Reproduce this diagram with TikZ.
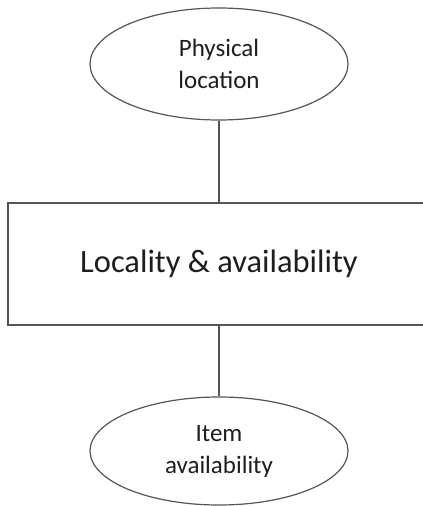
\documentclass[tikz,border=0pt]{standalone}
\usepackage{fontspec}
\setmainfont{Carlito}
\usetikzlibrary{shapes.geometric}
\definecolor{edge}{HTML}{555555}
\definecolor{ink}{HTML}{1E1E1E}
\tikzset{
  oval/.style={ellipse, draw=edge, line width=1.2pt, inner sep=0pt,
    minimum width=258pt, align=center, text=ink,
    font=\fontsize{25}{32}\selectfont},
  bigbox/.style={rectangle, draw=edge, line width=1.2pt, inner sep=0pt,
    minimum width=422pt, minimum height=122pt, text=ink,
    font=\fontsize{32.5}{38}\selectfont},
  link/.style={draw=edge, line width=1.2pt}
}
\begin{document}
\begin{tikzpicture}[x=1pt, y=-1pt]
  \useasboundingbox (0,0) rectangle (423,506);
  \clip (0,0) rectangle (423,506);
  \node[oval, minimum height=112pt] (loc) at (219,64) {Physical\\location};
  \node[bigbox] (core) at (219,264) {Locality \& availability};
  \node[oval, minimum height=108pt] (item) at (219,451) {Item\\availability};
  \draw[link] (loc.south) -- (core.north);
  \draw[link] (core.south) -- (item.north);
\end{tikzpicture}
\end{document}
